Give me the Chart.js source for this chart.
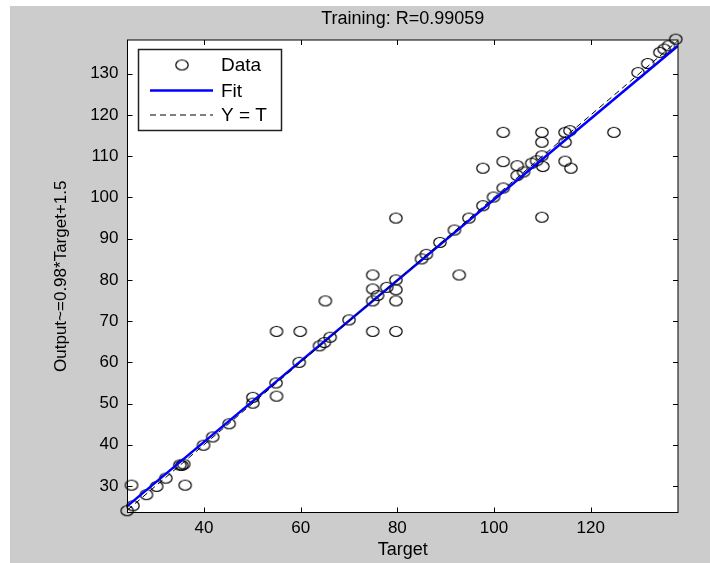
<!DOCTYPE html>
<html>
<head>
<meta charset="utf-8">
<script src="https://cdn.jsdelivr.net/npm/chart.js@4.4.0/dist/chart.umd.min.js"></script>
<style>
    html, body { margin: 0; padding: 0; background: #fff; }
    #wrap { width: 710px; height: 563px; }
</style>
</head>
<body>
<div id="wrap"><canvas id="regressionChart" width="710" height="563"></canvas></div>
<script>
// targets and network outputs
const targets = [24.1, 25.3, 25.0, 28.1, 30.2, 32.1, 35.0, 35.4, 35.8, 36.1,
    39.9, 41.8, 45.2, 50.1, 50.1, 54.9, 55.0, 55.0, 59.9, 59.7,
    63.9, 64.9, 66.1, 65.1, 70.0, 74.9, 79.7, 74.9, 74.9, 74.9,
    75.9, 77.8, 79.7, 79.7, 79.7, 79.7, 85.0, 86.0, 88.8, 91.8,
    92.8, 94.8, 97.7, 99.9, 101.9, 97.7, 101.9, 101.9, 104.8, 104.8,
    106.1, 107.8, 108.8, 109.9, 109.9, 109.9, 110.1, 109.9, 114.7, 115.7,
    114.7, 114.7, 115.9, 124.8, 129.8, 131.8, 134.3, 135.2, 136.1, 137.6];
const outputs = [24.0, 25.2, 30.2, 27.9, 29.9, 31.9, 35.1, 35.0, 35.3, 30.2,
    39.9, 41.9, 45.1, 51.5, 50.1, 55.0, 51.8, 67.5, 67.5, 60.0,
    64.0, 64.8, 66.1, 74.9, 70.3, 67.5, 67.5, 81.2, 77.8, 74.9,
    76.2, 78.2, 80.0, 77.6, 74.9, 95.0, 85.1, 86.2, 89.1, 92.1,
    81.2, 95.0, 98.0, 100.1, 102.3, 107.1, 108.7, 115.8, 107.7, 105.3,
    106.2, 108.3, 108.9, 110.1, 115.8, 113.4, 107.5, 95.2, 115.8, 116.2,
    113.4, 108.8, 107.1, 115.8, 130.3, 132.5, 135.2, 136.0, 136.8, 138.4];

const xTickValues = [40, 60, 80, 100, 120];
const yTickValues = [30, 40, 50, 60, 70, 80, 90, 100, 110, 120, 130];
const xLimits = [24.17, 138.06];
const yLimits = [23.57, 138.2];
const fitSlope = 0.98;
const fitIntercept = 1.5;
const titleText = 'Training: R=0.99059';

const FONT = "'Liberation Sans', Arial, sans-serif";

// open ellipse marker, like matlab 'o'
function makeMarker() {
    const c = document.createElement('canvas');
    c.width = 16;
    c.height = 13;
    const g = c.getContext('2d');
    g.strokeStyle = '#000';
    g.lineWidth = 1.2;
    g.beginPath();
    g.ellipse(8, 6.5, 6.2, 5, 0, 0, Math.PI * 2);
    g.stroke();
    return c;
}
const marker = makeMarker();

const figureBackground = {
    id: 'figureBackground',
    beforeDraw(chart) {
        const ctx = chart.ctx;
        const a = chart.chartArea;
        ctx.save();
        ctx.fillStyle = '#fff';
        ctx.fillRect(0, 0, chart.width, chart.height);
        ctx.fillStyle = '#cccccc';
        ctx.fillRect(10, 6, chart.width - 10, chart.height - 6);
        ctx.fillStyle = '#fff';
        ctx.fillRect(a.left, a.top, a.right - a.left, a.bottom - a.top);

        // title centred over the axes, as matlab does
        ctx.fillStyle = '#000';
        ctx.font = '18px ' + FONT;
        ctx.textAlign = 'center';
        ctx.textBaseline = 'middle';
        ctx.fillText(titleText, (a.left + a.right) / 2, 19);
        ctx.restore();
    }
};

// box around the axes with inward ticks on all four sides
const axesBox = {
    id: 'axesBox',
    afterDatasetsDraw(chart) {
        const ctx = chart.ctx;
        const a = chart.chartArea;
        const xs = chart.scales.x;
        const ys = chart.scales.y;
        ctx.save();
        ctx.strokeStyle = '#000';
        ctx.lineWidth = 1;
        ctx.strokeRect(a.left, a.top, a.right - a.left, a.bottom - a.top);
        ctx.beginPath();
        xTickValues.forEach(v => {
            const px = Math.round(xs.getPixelForValue(v)) + 0.5;
            ctx.moveTo(px, a.bottom);
            ctx.lineTo(px, a.bottom - 5);
            ctx.moveTo(px, a.top);
            ctx.lineTo(px, a.top + 5);
        });
        yTickValues.forEach(v => {
            const py = Math.round(ys.getPixelForValue(v)) + 0.5;
            ctx.moveTo(a.left, py);
            ctx.lineTo(a.left + 5, py);
            ctx.moveTo(a.right, py);
            ctx.lineTo(a.right - 5, py);
        });
        ctx.stroke();
        ctx.restore();
    }
};

// legend box in the upper left corner of the axes
const insideLegend = {
    id: 'insideLegend',
    afterDraw(chart) {
        const ctx = chart.ctx;
        const ds = chart.data.datasets;
        const bx = 138.5, by = 49.5, bw = 143, bh = 81;
        ctx.save();
        ctx.fillStyle = '#fff';
        ctx.fillRect(bx, by, bw, bh);
        ctx.strokeStyle = '#222';
        ctx.lineWidth = 1.5;
        ctx.strokeRect(bx, by, bw, bh);

        const rows = [65, 90.5, 115];
        ctx.drawImage(marker, 182 - 8, rows[0] - 6.5);

        ctx.strokeStyle = ds[1].borderColor;
        ctx.lineWidth = ds[1].borderWidth;
        ctx.beginPath();
        ctx.moveTo(150, rows[1]);
        ctx.lineTo(213, rows[1]);
        ctx.stroke();

        ctx.strokeStyle = ds[2].borderColor;
        ctx.lineWidth = ds[2].borderWidth;
        ctx.setLineDash(ds[2].borderDash);
        ctx.beginPath();
        ctx.moveTo(150, rows[2]);
        ctx.lineTo(213, rows[2]);
        ctx.stroke();
        ctx.setLineDash([]);

        ctx.fillStyle = '#000';
        ctx.font = '19px ' + FONT;
        ctx.textBaseline = 'middle';
        ctx.textAlign = 'left';
        ds.forEach((d, i) => ctx.fillText(d.label, 221, rows[i] + 1));
        ctx.restore();
    }
};

const points = targets.map((t, i) => ({ x: t, y: outputs[i] }));
const fitLine = xLimits.map(t => ({ x: t, y: fitSlope * t + fitIntercept }));
const identityLine = xLimits.map(t => ({ x: t, y: t }));

new Chart(document.getElementById('regressionChart'), {
    type: 'scatter',
    data: {
        datasets: [
            {
                label: 'Data',
                data: points,
                pointStyle: marker,
                pointRadius: 6,
                clip: false,
                order: 3
            },
            {
                label: 'Fit',
                data: fitLine,
                showLine: true,
                borderColor: '#0000ff',
                borderWidth: 2.5,
                pointRadius: 0,
                order: 2
            },
            {
                label: 'Y = T',
                data: identityLine,
                showLine: true,
                borderColor: '#000',
                borderWidth: 1,
                borderDash: [6, 4],
                pointRadius: 0,
                order: 1
            }
        ]
    },
    options: {
        responsive: false,
        animation: false,
        events: [],
        layout: { padding: { left: 0, right: 32, top: 40, bottom: 0 } },
        plugins: {
            legend: { display: false },
            tooltip: { enabled: false },
            title: { display: false }
        },
        scales: {
            x: {
                type: 'linear',
                min: xLimits[0],
                max: xLimits[1],
                grid: { display: false, drawTicks: false },
                border: { display: false },
                afterBuildTicks: s => { s.ticks = xTickValues.map(v => ({ value: v })); },
                afterFit: s => { s.height = 50.5; },
                ticks: {
                    color: '#000',
                    padding: 6,
                    maxRotation: 0,
                    font: { family: FONT, size: 17 }
                },
                title: {
                    display: true,
                    text: 'Target',
                    color: '#000',
                    font: { family: FONT, size: 18 },
                    padding: { top: 0, bottom: 2.2 }
                }
            },
            y: {
                type: 'linear',
                min: yLimits[0],
                max: yLimits[1],
                grid: { display: false, drawTicks: false },
                border: { display: false },
                afterBuildTicks: s => { s.ticks = yTickValues.map(v => ({ value: v })); },
                afterFit: s => { s.width = 127.5; },
                ticks: {
                    color: '#000',
                    padding: 9,
                    font: { family: FONT, size: 17 }
                },
                title: {
                    display: true,
                    text: 'Output~=0.98*Target+1.5',
                    color: '#000',
                    font: { family: FONT, size: 17 },
                    padding: { top: 51.5, bottom: 0 }
                }
            }
        }
    },
    plugins: [figureBackground, axesBox, insideLegend]
});
</script>
</body>
</html>
